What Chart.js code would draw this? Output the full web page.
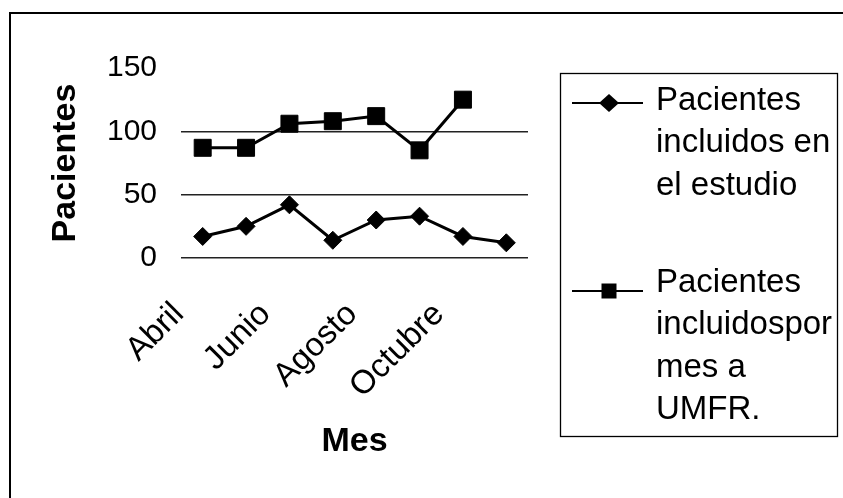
<!DOCTYPE html>
<html>
<head>
<meta charset="utf-8">
<script src="https://cdn.jsdelivr.net/npm/chart.js@4/dist/chart.umd.min.js"></script>
<style>
html,body{margin:0;padding:0;background:#fff;}
canvas{display:block;}
</style>
</head>
<body>
<canvas id="c" width="843" height="498"></canvas>
<script>
const categories = ['Abril', 'Mayo', 'Junio', 'Julio', 'Agosto', 'Septiembre', 'Octubre', 'Noviembre'];
const estudioValues = [17, 25, 42, 14, 30, 33, 17, 12];
const umfrValues = [87, 87, 106, 108, 112, 85, 125, null];
const estudioName = ['Pacientes', 'incluidos en', 'el estudio'];
const umfrName = ['Pacientes', 'incluidospor', 'mes a', 'UMFR.'];
const yTickValues = [0, 50, 100, 150];
const yTitle = 'Pacientes';
const xTitle = 'Mes';

const FONT = '"Liberation Sans", Arial, sans-serif';

function drawMarker(ctx, style, x, y) {
  ctx.beginPath();
  if (style === 'rectRot') {
    ctx.moveTo(x, y - 9); ctx.lineTo(x + 10, y); ctx.lineTo(x, y + 9); ctx.lineTo(x - 10, y);
  } else {
    ctx.rect(x - 7.5, y - 7.5, 15, 15);
  }
  ctx.closePath();
  ctx.fill();
}

const framePlugin = {
  id: 'frameAndLegend',
  afterDraw(chart) {
    const ctx = chart.ctx;
    ctx.save();
    // outer frame
    ctx.strokeStyle = '#000';
    ctx.lineWidth = 2;
    ctx.strokeRect(10, 13, 860, 520);
    // legend box
    ctx.lineWidth = 1.3;
    ctx.strokeRect(560.5, 73.5, 277, 363);
    ctx.font = '33px ' + FONT;
    ctx.fillStyle = '#000';
    ctx.textBaseline = 'middle';
    ctx.textAlign = 'left';
    const blockY = [101, 283];
    const markerY = [103, 291];
    chart.data.datasets.forEach((ds, i) => {
      const my = markerY[i];
      ctx.strokeStyle = '#000';
      ctx.lineWidth = 2;
      ctx.beginPath();
      ctx.moveTo(572, my);
      ctx.lineTo(643, my);
      ctx.stroke();
      drawMarker(ctx, ds.pointStyle, 609, my);
      ds.nameLines.forEach((t, j) => {
        ctx.fillText(t, 656, blockY[i] + j * 42.3);
      });
    });
    ctx.restore();
  }
};

new Chart(document.getElementById('c'), {
  type: 'line',
  data: {
    labels: categories,
    datasets: [
      {
        label: estudioName.join(' '),
        nameLines: estudioName,
        data: estudioValues,
        borderColor: '#000',
        backgroundColor: '#000',
        borderWidth: 3,
        pointStyle: 'rectRot',
        pointRadius: 9,
        pointBorderWidth: 1,
        tension: 0,
        spanGaps: false
      },
      {
        label: umfrName.join(' '),
        nameLines: umfrName,
        data: umfrValues,
        borderColor: '#000',
        backgroundColor: '#000',
        borderWidth: 3,
        pointStyle: 'rect',
        pointRadius: 12,
        pointBorderWidth: 1,
        tension: 0,
        spanGaps: false
      }
    ]
  },
  options: {
    responsive: false,
    animation: false,
    layout: { padding: { left: 10, top: 68, right: 315, bottom: 0 } },
    plugins: {
      legend: { display: false },
      tooltip: { enabled: false },
      title: { display: false }
    },
    scales: {
      x: {
        type: 'category',
        offset: true,
        afterFit(scale) { scale.height = 240; },
        grid: { display: false, drawTicks: false },
        border: { display: false },
        ticks: {
          autoSkip: false,
          minRotation: 45,
          maxRotation: 45,
          padding: 37,
          labelOffset: -24,
          color: '#000',
          font: { family: FONT, size: 33 },
          callback(value, index) { return index % 2 === 0 ? categories[index] : ''; }
        },
        title: {
          display: true,
          text: xTitle,
          color: '#000',
          font: { family: FONT, size: 34, weight: 'bold' },
          padding: { top: 0, bottom: 36 }
        }
      },
      y: {
        min: 0,
        max: 150,
        afterFit(scale) { scale.width = 171; },
        afterBuildTicks(scale) { scale.ticks = yTickValues.map(v => ({ value: v })); },
        grid: {
          drawTicks: false,
          lineWidth: 1.5,
          color(ctx) { return ctx.tick && ctx.tick.value === 150 ? 'rgba(0,0,0,0)' : '#222'; }
        },
        border: { display: false },
        ticks: {
          padding: 24,
          color: '#000',
          font: { family: FONT, size: 30 }
        },
        title: {
          display: true,
          text: yTitle,
          color: '#000',
          font: { family: FONT, size: 34, weight: 'bold' },
          padding: { top: 35, bottom: 0 }
        }
      }
    }
  },
  plugins: [framePlugin]
});
</script>
</body>
</html>
